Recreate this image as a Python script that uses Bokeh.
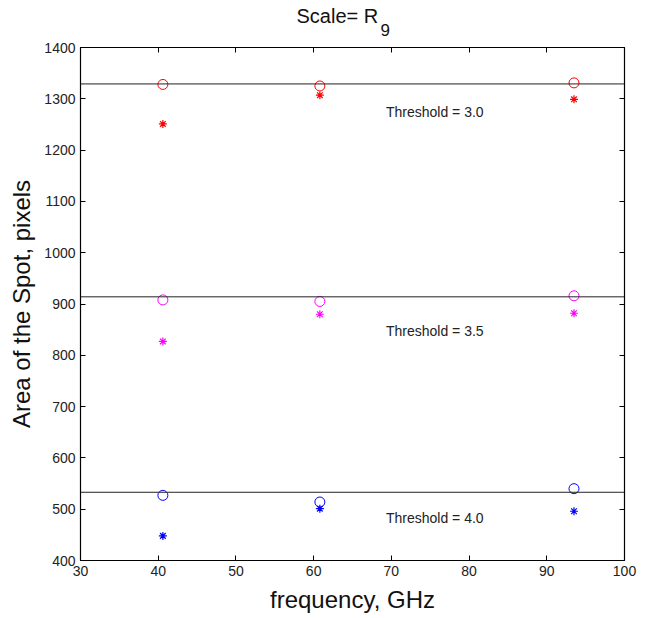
from bokeh.plotting import figure
from bokeh.layouts import column
from bokeh.models import Span, Label, LinearAxis, Range1d, FixedTicker
from bokeh.embed import file_html
from bokeh.resources import INLINE

# ---- data ----
freq = [40.6, 60.8, 93.5]
thresholds = [3.0, 3.5, 4.0]
threshold_levels = [1329, 914, 533]
colors = ["#ff0000", "#ff00ff", "#0000ff"]
circle_vals = [
    [1328, 1325, 1331],
    [908, 905, 916],
    [527, 514, 540],
]
star_vals = [
    [1251, 1307, 1299],
    [827, 880, 882],
    [448, 501, 496],
]
label_y = [1275, 848, 483]
x_ticks = [30, 40, 50, 60, 70, 80, 90, 100]
y_ticks = [400, 500, 600, 700, 800, 900, 1000, 1100, 1200, 1300, 1400]
title_main = "Scale= R"
title_sub = "9"

FONT = "Liberation Sans"
FRAME_W, FRAME_H = 544, 513
BL, BR = 80, 34

# ---- title strip (separate small figure so the text is not clipped) ----
t = figure(width=BL + FRAME_W + BR, height=38, output_backend="svg", toolbar_location=None,
           x_range=Range1d(0, FRAME_W), y_range=Range1d(0, 38),
           x_axis_type=None, y_axis_type=None, title=None,
           min_border_left=BL, min_border_right=BR, min_border_top=0, min_border_bottom=0)
t.outline_line_color = None
t.grid.visible = False
t.add_layout(Label(x=216, y=23, text=title_main, text_font=FONT, text_font_size="20px",
                   text_color="#111111", text_baseline="middle", text_align="left"))
t.add_layout(Label(x=300, y=9, text=title_sub, text_font=FONT, text_font_size="17px",
                   text_color="#111111", text_baseline="middle", text_align="left"))

# ---- main plot ----
p = figure(output_backend="svg", toolbar_location=None, title=None,
           x_range=Range1d(30, 100), y_range=Range1d(400, 1400),
           frame_width=FRAME_W, frame_height=FRAME_H,
           min_border_left=BL, min_border_right=BR, min_border_top=9, min_border_bottom=58,
           x_axis_label="frequency, GHz", y_axis_label="Area of the Spot, pixels")
p.outline_line_color = "black"
p.outline_line_width = 1.2
p.grid.visible = False
p.background_fill_color = "white"
p.border_fill_color = "white"

for ax in p.xaxis + p.yaxis:
    ax.major_tick_in = 5
    ax.major_tick_out = 0
    ax.minor_tick_line_color = None
    ax.axis_line_color = "black"
    ax.major_tick_line_color = "black"
    ax.major_label_text_font = FONT
    ax.major_label_text_font_size = "14px"
    ax.major_label_text_color = "#222222"
    ax.major_label_text_line_height = 1.0
    ax.axis_label_text_font = FONT
    ax.axis_label_text_font_size = "24px"
    ax.axis_label_text_font_style = "normal"
    ax.axis_label_text_color = "#111111"
    ax.axis_label_text_line_height = 1.0
p.xaxis.ticker = FixedTicker(ticks=x_ticks)
p.yaxis.ticker = FixedTicker(ticks=y_ticks)
p.xaxis.major_label_standoff = 5
p.yaxis.major_label_standoff = 5
p.xaxis.axis_label_standoff = 7
p.yaxis.axis_label_standoff = 6

# box ticks on right and top (no labels)
right = LinearAxis(ticker=FixedTicker(ticks=y_ticks),
                   major_label_overrides={v: "" for v in y_ticks},
                   major_label_text_font_size="2px",
                   major_tick_in=5, major_tick_out=0, minor_tick_line_color=None,
                   major_label_standoff=0)
top = LinearAxis(ticker=FixedTicker(ticks=x_ticks),
                 major_label_overrides={v: "" for v in x_ticks},
                 major_label_text_font_size="2px",
                 major_tick_in=5, major_tick_out=0, minor_tick_line_color=None,
                 major_label_standoff=0)
p.add_layout(right, "right")
p.add_layout(top, "above")

for lvl in threshold_levels:
    p.add_layout(Span(location=lvl, dimension="width", line_color="#222222", line_width=1))

for c, cv, sv in zip(colors, circle_vals, star_vals):
    p.scatter(freq, cv, marker="circle", size=10, fill_color=None, line_color=c, line_width=1)
    p.scatter(freq, sv, marker="asterisk", size=8, line_color=c, line_width=1.2)

for th, ly in zip(thresholds, label_y):
    p.add_layout(Label(x=69.3, y=ly, text=f"Threshold = {th:.1f}", text_font=FONT,
                       text_font_size="14px", text_color="#222222",
                       text_baseline="middle", text_align="left"))

layout = column(t, p, spacing=0)
open("out.html", "w").write(file_html(layout, INLINE))
